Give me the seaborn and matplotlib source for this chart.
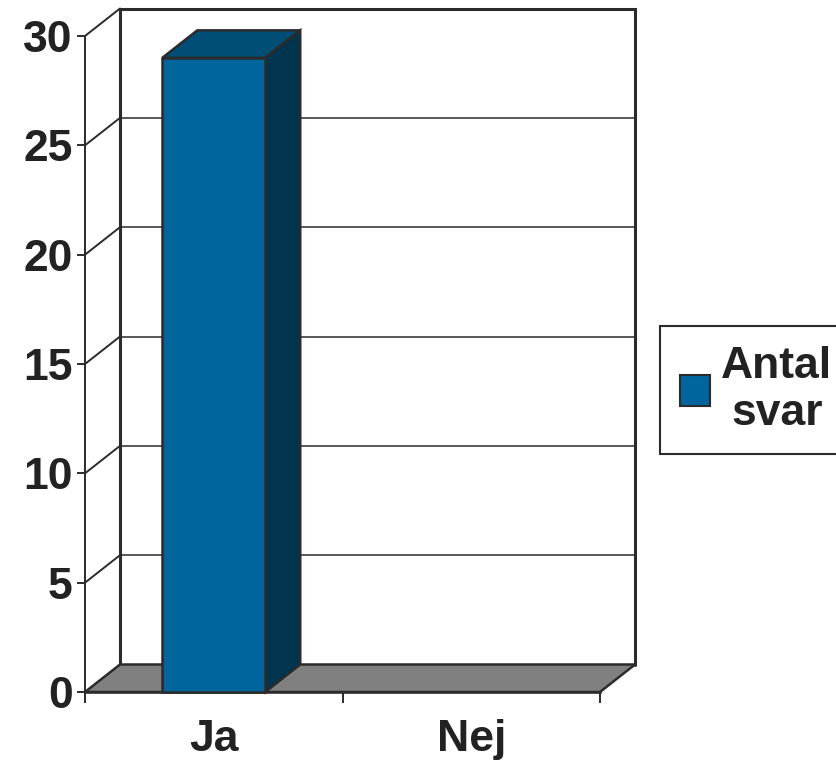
import matplotlib
matplotlib.use("Agg")
import matplotlib.pyplot as plt
import matplotlib.patches as mpatches
import seaborn as sns

categories = ["Ja", "Nej"]
values = [29, 0]
series_name = "Antal\nsvar"
y_ticks = [0, 5, 10, 15, 20, 25, 30]

front_col = "#00659c"
top_col = "#004e75"
side_col = "#00344f"
floor_col = "#808080"
line_col = "#2b2b2b"

sns.set_style("white")
plt.rcParams["font.family"] = ["Liberation Sans", "DejaVu Sans"]
plt.rcParams["font.weight"] = "bold"

W, H = 836, 770
fig = plt.figure(figsize=(W / 100, H / 100), dpi=100)
# front plane of the 3d box in pixels
x0, x1, ytop, ybot = 85, 600, 36, 692
ax = fig.add_axes([x0 / W, 1 - ybot / H, (x1 - x0) / W, (ybot - ytop) / H])

sns.barplot(x=categories, y=values, color=front_col, width=0.4,
            edgecolor=line_col, linewidth=1.8, saturation=1, ax=ax, zorder=5)
ax.set_xlim(-0.5, 1.5)
ax.set_ylim(0, 30)

# depth offset (35 px right, 27.5 px up) in data units
dx = 35 / ((x1 - x0) / 2)
dy = 27.5 / ((ybot - ytop) / 30)
xl, xr, ymax = -0.5, 1.5, 30

# back wall + left wall grid
for y in y_ticks[1:-1]:
    ax.plot([xl + dx, xr + dx], [y + dy, y + dy], color=line_col, lw=1.1, clip_on=False, zorder=1)
for y in y_ticks[1:]:
    ax.plot([xl, xl + dx], [y, y + dy], color=line_col, lw=1.4, clip_on=False, zorder=1)
ax.plot([xl + dx, xl + dx, xr + dx, xr + dx], [dy, ymax + dy, ymax + dy, dy],
        color=line_col, lw=2.2, clip_on=False, zorder=1, solid_joinstyle="miter")

# floor
floor = mpatches.Polygon([(xl, 0), (xr, 0), (xr + dx, dy), (xl + dx, dy)], closed=True,
                         facecolor=floor_col, edgecolor=line_col, lw=1.8, clip_on=False, zorder=2)
ax.add_patch(floor)

# bar top and side faces
for p in ax.patches:
    if p is floor:
        continue
    bx, bw, bh = p.get_x(), p.get_width(), p.get_height()
    if bh <= 0:
        continue
    top = mpatches.Polygon([(bx, bh), (bx + bw, bh), (bx + bw + dx, bh + dy), (bx + dx, bh + dy)],
                           facecolor=top_col, edgecolor=line_col, lw=1.8, clip_on=False, zorder=4)
    side = mpatches.Polygon([(bx + bw, 0), (bx + bw + dx, dy), (bx + bw + dx, bh + dy), (bx + bw, bh)],
                            facecolor=side_col, edgecolor=line_col, lw=1.8, clip_on=False, zorder=4)
    ax.add_patch(top)
    ax.add_patch(side)
    p.set_clip_on(False)

for s in ["top", "right"]:
    ax.spines[s].set_visible(False)
ax.spines["left"].set_color(line_col)
ax.spines["left"].set_linewidth(1.4)
ax.spines["bottom"].set_color(line_col)
ax.spines["bottom"].set_linewidth(1.8)
ax.spines["left"].set_zorder(0)

ax.set_yticks(y_ticks)
ax.set_xticks([0, 1])
ax.set_xticklabels(categories)
ax.set_xticks([-0.5, 0.5, 1.5], minor=True)
ax.tick_params(axis="y", left=True, length=6, width=1.4, color=line_col, pad=3,
               labelsize=32, labelcolor="#222222")
ax.tick_params(axis="x", which="major", bottom=False, pad=16, labelsize=32, labelcolor="#222222")
ax.tick_params(axis="x", which="minor", bottom=True, length=8, width=1.4, color=line_col)
for t in ax.get_xticklabels() + ax.get_yticklabels():
    t.set_fontweight("bold")
ax.set_xlabel("")
ax.set_ylabel("")
ax.grid(False)
ax.patch.set_alpha(0)

handle = mpatches.Patch(facecolor=front_col, edgecolor=line_col, lw=1.5)
leg = fig.legend([handle], [series_name], loc="upper left",
                 bbox_to_anchor=(660 / W, 1 - 326 / H), frameon=True, fancybox=False,
                 framealpha=1, prop={"size": 32, "weight": "bold"},
                 handlelength=0.68, handleheight=0.68, labelspacing=0.2,
                 handletextpad=0.25, borderpad=0.45, borderaxespad=0)
leg.get_frame().set_edgecolor(line_col)
leg.get_frame().set_linewidth(1.5)
for t in leg.get_texts():
    t.set_multialignment("center")
    t.set_color("#222222")

fig.savefig("out.png", dpi=100)
